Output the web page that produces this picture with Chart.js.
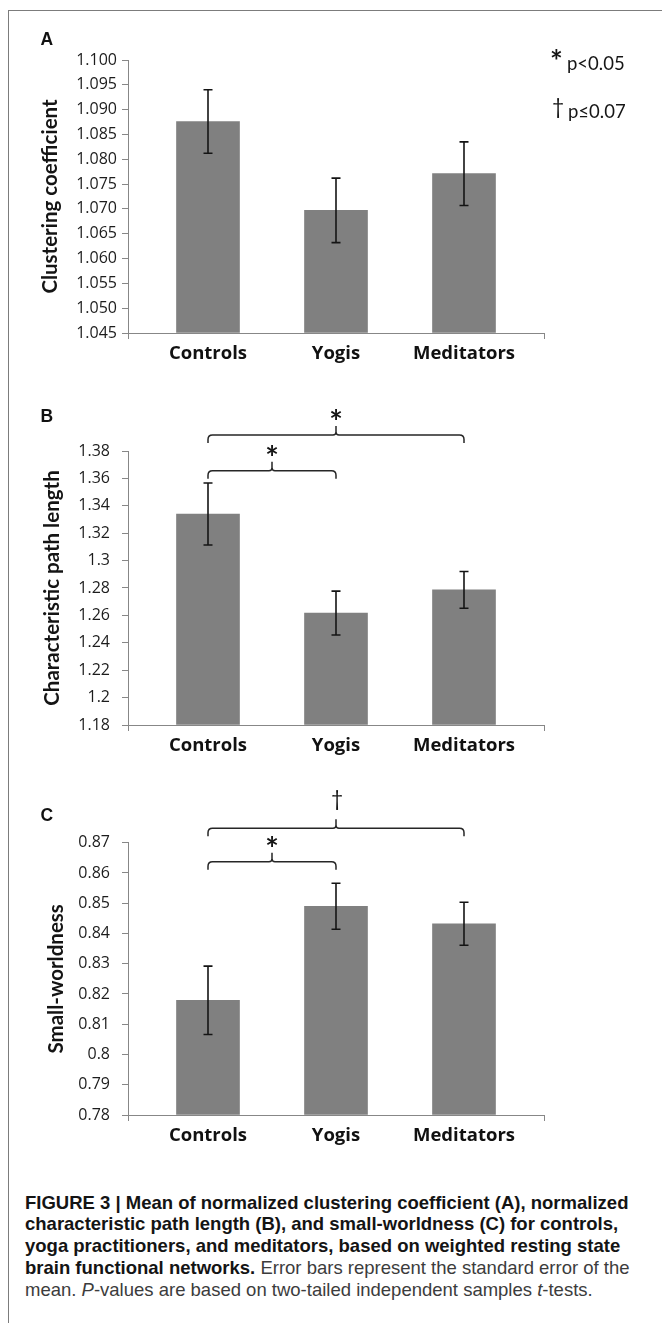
<!DOCTYPE html>
<html>
<head>
<meta charset="utf-8">
<script src="https://cdn.jsdelivr.net/npm/chart.js@4.4.1/dist/chart.umd.min.js"></script>
<style>
html,body{margin:0;padding:0;background:#fff;}
body{width:662px;height:1323px;position:relative;overflow:hidden;}
#frame{position:absolute;left:8px;top:10px;width:720px;height:1400px;border-left:1.6px solid #7c7c7c;border-top:1.6px solid #7c7c7c;}
canvas{position:absolute;left:0;}
#cap{position:absolute;left:25px;top:1191.5px;font-family:"Liberation Sans",Arial,sans-serif;font-size:18.5px;line-height:21.9px;color:#111;white-space:nowrap;}
#cap b{font-weight:700;color:#141414;}
#cap .n{color:#3c3c3c;}
</style>
</head>
<body>
<div id="frame"></div>
<canvas id="cA" width="662" height="380" style="top:0px;width:662px;height:380px;"></canvas>
<canvas id="cB" width="662" height="390" style="top:380px;width:662px;height:390px;"></canvas>
<canvas id="cC" width="662" height="390" style="top:770px;width:662px;height:390px;"></canvas>
<div id="cap">
<b>FIGURE 3 | Mean of normalized clustering coefficient (A), normalized</b><br>
<b>characteristic path length (B), and small-worldness (C) for controls,</b><br>
<b>yoga practitioners, and meditators, based on weighted resting state</b><br>
<b>brain functional networks.</b><span class="n"> Error bars represent the standard error of the</span><br>
<span class="n">mean. <i>P</i>-values are based on two-tailed independent samples <i>t</i>-tests.</span>
</div>
<script>
// ---------------- data ----------------
const categories = ['Controls', 'Yogis', 'Meditators'];

const clusteringMean = [1.0876, 1.0697, 1.0771];
const clusteringErr  = [0.0064, 0.0065, 0.0064];

const pathMean = [1.3340, 1.2617, 1.2786];
const pathErr  = [0.0226, 0.0160, 0.0134];

const smallWorldMean = [0.8179, 0.8490, 0.8432];
const smallWorldErr  = [0.0113, 0.0076, 0.0071];

const ticksA = ['1.045','1.050','1.055','1.060','1.065','1.070','1.075','1.080','1.085','1.090','1.095','1.100'];
const ticksB = ['1.18','1.2','1.22','1.24','1.26','1.28','1.3','1.32','1.34','1.36','1.38'];
const ticksC = ['0.78','0.79','0.8','0.81','0.82','0.83','0.84','0.85','0.86','0.87'];

const bracketsA = [];
const bracketsB = [
  {from: 0, to: 1, level: 1.3655, mark: '*'},
  {from: 0, to: 2, level: 1.3916, mark: '*'}
];
const bracketsC = [
  {from: 0, to: 1, level: 0.8637, mark: '*'},
  {from: 0, to: 2, level: 0.87475, mark: '\u2020'}
];

// ---------------- helpers ----------------
const AXIS_GRAY = '#878787';
const X_MIN = -0.625, X_MAX = 2.625;

function drawCentered(ctx, text, x, cy, font, color, align) {
  ctx.font = font;
  ctx.fillStyle = color;
  ctx.textAlign = align || 'center';
  ctx.textBaseline = 'alphabetic';
  const m = ctx.measureText(text);
  const by = cy + (m.actualBoundingBoxAscent - m.actualBoundingBoxDescent) / 2;
  ctx.fillText(text, x, by);
}
function drawBaseline(ctx, text, x, by, font, color) {
  ctx.font = font;
  ctx.fillStyle = color;
  ctx.textAlign = 'left';
  ctx.textBaseline = 'alphabetic';
  ctx.fillText(text, x, by);
}

function drawBracket(ctx, x1, x2, y) {
  const d = 8, r = 4.5, peak = 9, rm = 3;
  const xm = (x1 + x2) / 2;
  ctx.beginPath();
  ctx.moveTo(x1, y + d);
  ctx.lineTo(x1, y + r);
  ctx.quadraticCurveTo(x1, y, x1 + r, y);
  ctx.lineTo(xm - rm, y);
  ctx.quadraticCurveTo(xm, y, xm, y - rm);
  ctx.lineTo(xm, y - peak);
  ctx.moveTo(x2, y + d);
  ctx.lineTo(x2, y + r);
  ctx.quadraticCurveTo(x2, y, x2 - r, y);
  ctx.lineTo(xm + rm, y);
  ctx.quadraticCurveTo(xm, y, xm, y - rm);
  ctx.lineTo(xm, y - peak);
  ctx.stroke();
}

function makePanel(cfg) {
  const canvas = document.getElementById(cfg.id);
  const H = canvas.height;
  const tickLabels = cfg.ticks;
  const yMin = parseFloat(tickLabels[0]);
  const yMax = parseFloat(tickLabels[tickLabels.length - 1]);

  const overlay = {
    id: 'overlay_' + cfg.id,
    afterDatasetsDraw(chart) {
      const ctx = chart.ctx;
      const xs = chart.scales.x, ys = chart.scales.y;
      const meta = chart.getDatasetMeta(0);
      // error bars
      ctx.save();
      ctx.strokeStyle = '#141414';
      ctx.lineWidth = 1.6;
      meta.data.forEach((bar, i) => {
        const v = cfg.means[i], e = cfg.errs[i];
        const yt = ys.getPixelForValue(v + e);
        const yb = ys.getPixelForValue(v - e);
        const x = bar.x;
        ctx.beginPath();
        ctx.moveTo(x, yt); ctx.lineTo(x, yb);
        ctx.moveTo(x - 4.5, yt); ctx.lineTo(x + 4.5, yt);
        ctx.moveTo(x - 4.5, yb); ctx.lineTo(x + 4.5, yb);
        ctx.stroke();
      });
      // significance brackets
      ctx.strokeStyle = '#262626';
      ctx.lineWidth = 1.5;
      cfg.brackets.forEach(b => {
        const x1 = xs.getPixelForValue(b.from);
        const x2 = xs.getPixelForValue(b.to);
        const y = ys.getPixelForValue(b.level);
        drawBracket(ctx, x1, x2, y);
        const xm = (x1 + x2) / 2;
        if (b.mark === '*') {
          drawCentered(ctx, '*', xm, y - 21, 'bold 32px Lato', '#141414');
        } else {
          drawCentered(ctx, b.mark, xm + 1, y - 28, '21px Lato', '#141414');
        }
      });
      // panel letter
      drawBaseline(ctx, cfg.letter, 40.5, cfg.letterBase, 'bold 17.5px "Liberation Sans"', '#111');
      if (cfg.legend) {
        drawCentered(ctx, '*', 556.5, 54, 'bold 30px Lato', '#141414');
        drawBaseline(ctx, 'p<0.05', 567, 69.5, '18.5px Lato', '#161616');
        drawCentered(ctx, '\u2020', 558, 108.3, '21px Lato', '#141414');
        drawBaseline(ctx, 'p\u22640.07', 568, 117.8, '18.5px Lato', '#161616');
      }
      ctx.restore();
    }
  };

  return new Chart(canvas, {
    type: 'bar',
    data: {
      datasets: [{
        data: cfg.means.map((v, i) => ({x: i, y: v})),
        backgroundColor: '#808080',
        borderWidth: 0,
        barThickness: 63,
        base: yMin
      }]
    },
    options: {
      responsive: false,
      animation: false,
      events: [],
      layout: {padding: {left: 28, right: 118, top: cfg.areaTop, bottom: H - cfg.areaBottom - 40}},
      plugins: {legend: {display: false}, tooltip: {enabled: false}},
      scales: {
        x: {
          type: 'linear',
          min: X_MIN, max: X_MAX,
          offset: false,
          afterBuildTicks: s => { s.ticks = [X_MIN, 0, 1, 2, X_MAX].map(v => ({value: v})); },
          afterFit: s => { s.height = 40; },
          grid: {
            display: true, offset: false, drawOnChartArea: false, drawTicks: true, tickLength: 6,
            lineWidth: 1,
            color: c => (c.tick && (c.tick.value === X_MIN || c.tick.value === X_MAX)) ? AXIS_GRAY : 'rgba(0,0,0,0)'
          },
          border: {display: true, color: AXIS_GRAY, width: 1},
          ticks: {
            autoSkip: false, maxRotation: 0, minRotation: 0, padding: 4,
            color: '#111',
            font: {family: '"Open Sans"', weight: 'bold', size: 18.5},
            callback: v => Number.isInteger(v) ? categories[v] : ''
          }
        },
        y: {
          type: 'linear',
          min: yMin, max: yMax,
          afterBuildTicks: s => { s.ticks = tickLabels.map(t => ({value: parseFloat(t)})); },
          afterFit: s => { s.width = 100; },
          grid: {display: true, drawOnChartArea: false, drawTicks: true, tickLength: 6, color: AXIS_GRAY, lineWidth: 1},
          border: {display: true, color: AXIS_GRAY, width: 1},
          ticks: {
            autoSkip: false, padding: cfg.tickPad,
            color: '#1c1c1c',
            font: {family: '"Open Sans"', size: 16},
            callback: (v, i) => tickLabels[i]
          },
          title: {
            display: true, text: cfg.title, color: '#141414',
            font: {family: 'Lato', weight: 'bold', size: 20.5},
            padding: {top: cfg.titlePad, bottom: 0}
          }
        }
      }
    },
    plugins: [overlay]
  });
}

makePanel({id: 'cA', means: clusteringMean, errs: clusteringErr, ticks: ticksA, brackets: bracketsA,
  title: 'Clustering coefficient', areaTop: 60, areaBottom: 333, tickPad: 5, titlePad: 10,
  letter: 'A', letterBase: 44.8, legend: true});
makePanel({id: 'cB', means: pathMean, errs: pathErr, ticks: ticksB, brackets: bracketsB,
  title: 'Characteristic path length', areaTop: 71, areaBottom: 345, tickPad: 12, titlePad: 12,
  letter: 'B', letterBase: 42.3, legend: false});
makePanel({id: 'cC', means: smallWorldMean, errs: smallWorldErr, ticks: ticksC, brackets: bracketsC,
  title: 'Small-worldness', areaTop: 72.7, areaBottom: 345, tickPad: 12, titlePad: 16,
  letter: 'C', letterBase: 50.6, legend: false});
</script>
</body>
</html>
